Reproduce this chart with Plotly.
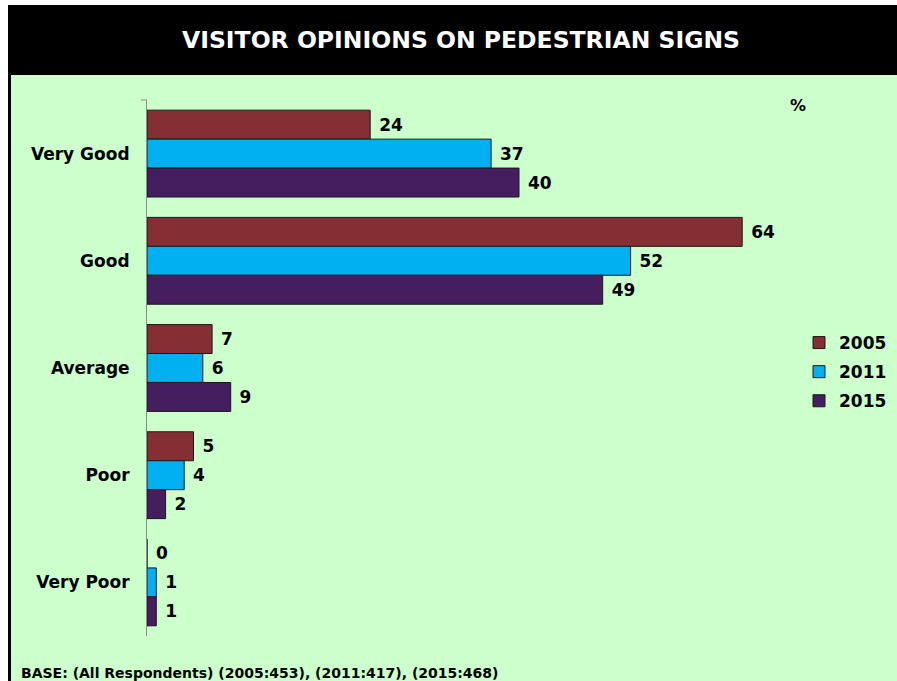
import plotly.graph_objects as go

W, H = 897, 681

categories = ["Very Good", "Good", "Average", "Poor", "Very Poor"]
years = ["2005", "2011", "2015"]
values_2005 = [24, 64, 7, 5, 0]
values_2011 = [37, 52, 6, 4, 1]
values_2015 = [40, 49, 9, 2, 1]
colors = ["#852E33", "#00B0F0", "#451E5F"]

title_text = "VISITOR OPINIONS ON PEDESTRIAN SIGNS"
base_text = "BASE: (All Respondents) (2005:453), (2011:417), (2015:468)"
FONT = "DejaVu Sans"


def px_x(p):
    return p / W


def px_y(p):
    return 1 - p / H


def bold(size, color="black"):
    return dict(family=FONT, size=size, color=color, weight="bold")


fig = go.Figure()
for year, vals, col in zip(years, [values_2005, values_2011, values_2015], colors):
    fig.add_trace(go.Bar(
        y=categories, x=vals, name=year, orientation="h", legendgroup=year,
        marker=dict(color=col, line=dict(color="#1a1a1a", width=1)),
        text=vals, texttemplate=" %{text}", textposition="outside",
        textfont=bold(17),
        cliponaxis=False, constraintext="none",
    ))

shapes = [
    # green panel, black heading bar and left border
    dict(type="rect", xref="paper", yref="paper", x0=px_x(11), x1=1, y0=0, y1=px_y(75),
         fillcolor="#CCFFCC", line=dict(width=0), layer="below"),
    dict(type="rect", xref="paper", yref="paper", x0=px_x(8), x1=1, y0=px_y(75), y1=px_y(5),
         fillcolor="black", line=dict(width=0), layer="below"),
    dict(type="rect", xref="paper", yref="paper", x0=px_x(8), x1=px_x(11), y0=0, y1=px_y(75),
         fillcolor="black", line=dict(width=0), layer="below"),
    # small tick at the top of the category axis
    dict(type="line", xref="paper", yref="paper", x0=px_x(141), x1=px_x(147),
         y0=px_y(100), y1=px_y(100), line=dict(color="#8c8c8c", width=1)),
]

annotations = [
    dict(text=title_text, xref="paper", yref="paper", x=px_x(461), y=px_y(40),
         showarrow=False, xanchor="center", yanchor="middle", font=bold(23.5, "white")),
    dict(text="%", xref="paper", yref="paper", x=px_x(798), y=px_y(106),
         showarrow=False, xanchor="center", yanchor="middle", font=bold(16)),
    dict(text=base_text, xref="paper", yref="paper", x=px_x(19), y=px_y(673),
         showarrow=False, xanchor="left", yanchor="middle", font=bold(14)),
]

fig.update_layout(
    width=W, height=H,
    margin=dict(l=0, r=0, t=0, b=0, autoexpand=False),
    paper_bgcolor="white", plot_bgcolor="rgba(0,0,0,0)",
    barmode="group", bargap=0.19, bargroupgap=0,
    showlegend=True,
    legend=dict(x=px_x(799), y=px_y(372), xanchor="left", yanchor="middle",
                font=bold(17), bgcolor="rgba(0,0,0,0)", itemwidth=30,
                traceorder="grouped", tracegroupgap=4),
    xaxis=dict(domain=[px_x(147), px_x(798)], range=[0, 70], visible=False),
    yaxis=dict(domain=[px_y(636), px_y(100)], autorange="reversed",
               showline=True, linecolor="#8c8c8c", linewidth=1,
               ticks="", ticklabelstandoff=13, showgrid=False,
               tickfont=bold(17)),
    shapes=shapes, annotations=annotations,
)

fig.write_html("out.html")
